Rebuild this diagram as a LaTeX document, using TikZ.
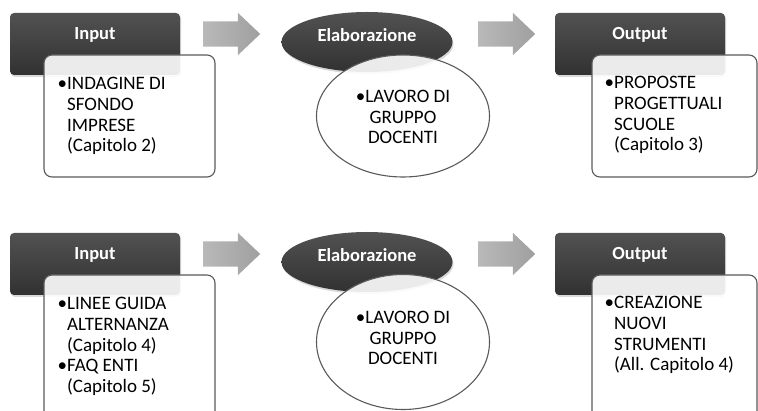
\documentclass[tikz,border=0pt]{standalone}
\usepackage{fontspec}
\setmainfont{Carlito}
\usetikzlibrary{shapes.geometric,shapes.arrows,shadows}
\definecolor{headgray}{HTML}{3A3A3A}
\definecolor{edgegray}{HTML}{5A5A5A}
\tikzset{
  headbox/.style={rectangle, rounded corners=4pt, top color=headgray!88!white, bottom color=headgray!85!black, minimum width=170pt, minimum height=62pt, drop shadow={opacity=0.3, shadow xshift=1pt, shadow yshift=-2pt}},
  headoval/.style={ellipse, top color=headgray!88!white, bottom color=headgray!85!black, minimum width=171pt, minimum height=60pt, drop shadow={opacity=0.3, shadow xshift=1pt, shadow yshift=-2pt}},
  headtext/.style={text=white, font=\fontsize{18.5}{22}\selectfont\bfseries, inner sep=0pt},
  bodybox/.style={rectangle, rounded corners=8pt, draw=edgegray, line width=1.1pt, fill=white, fill opacity=0.9, draw opacity=1},
  bodyoval/.style={ellipse, draw=edgegray, line width=1.1pt, fill=white, fill opacity=0.9, draw opacity=1, inner sep=0pt},
  bodytext/.style={font=\fontsize{19}{20.8}\selectfont, inner sep=0pt},
  flowarrow/.style={single arrow, anchor=tail, minimum height=57pt, text height=12.5pt, text depth=12.5pt, single arrow head extend=8.5pt, single arrow tip angle=87, left color=gray!55, right color=gray!75, inner sep=0pt}
}
\begin{document}
\begin{tikzpicture}[x=1pt, y=-1pt, line join=round]
\useasboundingbox (0,0) rectangle (758,411);
\clip (0,0) rectangle (758,411);
\node[headbox] (in1) at (95,44) {};
\node[bodybox, minimum width=171pt, minimum height=122pt] (in1b) at (129.5,116) {};
\node[headtext] (in1t) at (95,35) {Input};
\node[bodytext, align=left, anchor=north west] (in1x) at (67,77) {\llap{\textbullet}INDAGINE DI\\SFONDO\\IMPRESE\\(Capitolo 2)};
\node[flowarrow] (ar1) at (203,34) {};
\node[headoval] (el1) at (367,42) {};
\node[bodyoval, minimum width=173pt, minimum height=122pt] (el1b) at (403,116) {};
\node[headtext] (el1t) at (367,35) {Elaborazione};
\node[bodytext, align=center] (el1x) at (403,117) {\textbullet LAVORO DI\\GRUPPO\\DOCENTI};
\node[flowarrow] (ar2) at (478,34) {};
\node[headbox] (out1) at (640,44) {};
\node[bodybox, minimum width=165pt, minimum height=122pt] (out1b) at (674.5,116) {};
\node[headtext] (out1t) at (640,35) {Output};
\node[bodytext, align=left, anchor=north west] (out1x) at (614,76) {\llap{\textbullet}PROPOSTE\\PROGETTUALI\\SCUOLE\\(Capitolo 3)};
\node[headbox] (in2) at (95,264) {};
\node[bodybox, minimum width=171pt, minimum height=150pt] (in2b) at (129.5,350) {};
\node[headtext] (in2t) at (95,255) {Input};
\node[bodytext, align=left, anchor=north west] (in2x) at (67,297) {\llap{\textbullet}LINEE GUIDA\\ALTERNANZA\\(Capitolo 4)\\\llap{\textbullet}FAQ ENTI\\(Capitolo 5)};
\node[flowarrow] (ar3) at (203,254) {};
\node[headoval] (el2) at (367,262) {};
\node[bodyoval, minimum width=173pt, minimum height=135pt] (el2b) at (403,342) {};
\node[headtext] (el2t) at (367,255) {Elaborazione};
\node[bodytext, align=center] (el2x) at (403,338) {\textbullet LAVORO DI\\GRUPPO\\DOCENTI};
\node[flowarrow] (ar4) at (478,254) {};
\node[headbox] (out2) at (640,264) {};
\node[bodybox, minimum width=165pt, minimum height=150pt] (out2b) at (674.5,350) {};
\node[headtext] (out2t) at (640,255) {Output};
\node[bodytext, align=left, anchor=north west] (out2x) at (614,296) {\llap{\textbullet}CREAZIONE\\NUOVI\\STRUMENTI\\(All. Capitolo 4)};
\end{tikzpicture}
\end{document}
